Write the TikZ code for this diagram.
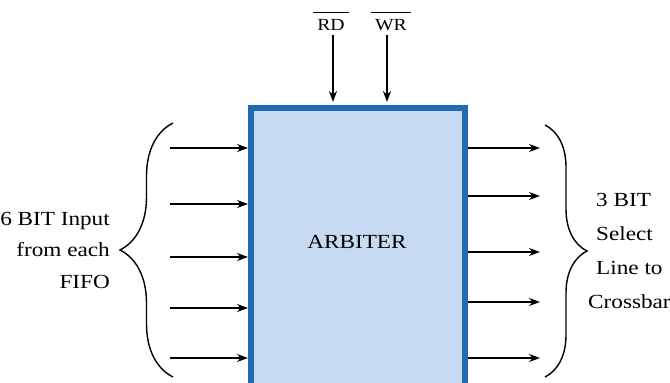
\documentclass[tikz,border=0pt]{standalone}
\usepackage{fontspec}
\setmainfont[FakeStretch=1.16]{Liberation Serif}
\usetikzlibrary{arrows.meta,decorations.pathreplacing}
\definecolor{boxborder}{RGB}{32,108,178}
\definecolor{boxfill}{RGB}{198,218,242}
\begin{document}
\begin{tikzpicture}[x=1pt,y=-1pt,
  lbl/.style={inner sep=0pt,font=\fontsize{20}{22}\selectfont},
  toplbl/.style={inner sep=0pt,font=\fontsize{17}{20}\selectfont},
  sig/.style={line width=1.5pt,-{Stealth[length=11pt,width=8pt]}},
  brc/.style={line width=1.4pt,decorate,decoration={brace,amplitude=#1}}]
\useasboundingbox (0,0) rectangle (670,383);
\clip (0,0) rectangle (670,383);
\fill[white] (0,0) rectangle (670,383);
% block
\node[draw=boxborder,fill=boxfill,line width=6pt,outer sep=0pt,
      minimum width=214pt,minimum height=300pt,anchor=north west] (box) at (251,108) {};
\node[lbl] (arb) at (357,242) {ARBITER};
% top signals
\node[toplbl,anchor=base] (rd) at (331,30) {RD};
\node[toplbl,anchor=base] (wr) at (391,30) {WR};
\draw[line width=1pt] ([xshift=-4pt,yshift=6pt]rd.north west) -- ([xshift=4pt,yshift=6pt]rd.north east);
\draw[line width=1pt] ([xshift=-4pt,yshift=6pt]wr.north west) -- ([xshift=4pt,yshift=6pt]wr.north east);
\coordinate (rdin) at (333,105);
\coordinate (wrin) at (387,105);
\draw[sig] (rd.south -| rdin) ++(0,5) -- ([yshift=3pt]rdin);
\draw[sig] (wr.south -| wrin) ++(0,5) -- ([yshift=3pt]wrin);
% left inputs
\foreach \i/\y in {1/148,2/204,3/257,4/308,5/358}{
  \coordinate (in\i) at (170,\y);
  \draw[sig] (in\i) -- ([xshift=-3pt]box.west |- in\i);
}
\coordinate (lbt) at (173,123);
\coordinate (lbb) at (173,377);
\draw[brc=53pt] (lbb) -- (lbt);
\node[lbl,anchor=base east] (l1) at (110,225) {6 BIT Input};
\node[lbl,anchor=base east] (l2) at (110,256) {from each};
\node[lbl,anchor=base east] (l3) at (110,288) {FIFO};
% right outputs
\foreach \i/\y in {1/148,2/196,3/252,4/302,5/358}{
  \coordinate (out\i) at (540,\y);
  \draw[sig] ([xshift=3pt]box.east |- out\i) -- (out\i);
}
\coordinate (rbt) at (545,125);
\coordinate (rbb) at (545,377);
\draw[brc=42pt] (rbt) -- (rbb);
\node[lbl,anchor=base west] (r1) at (596,206) {3 BIT};
\node[lbl,anchor=base west] (r2) at (596,240) {Select};
\node[lbl,anchor=base west] (r3) at (596,274) {Line to};
\node[lbl,anchor=base west] (r4) at (588,308) {Crossbar};
\end{tikzpicture}
\end{document}
